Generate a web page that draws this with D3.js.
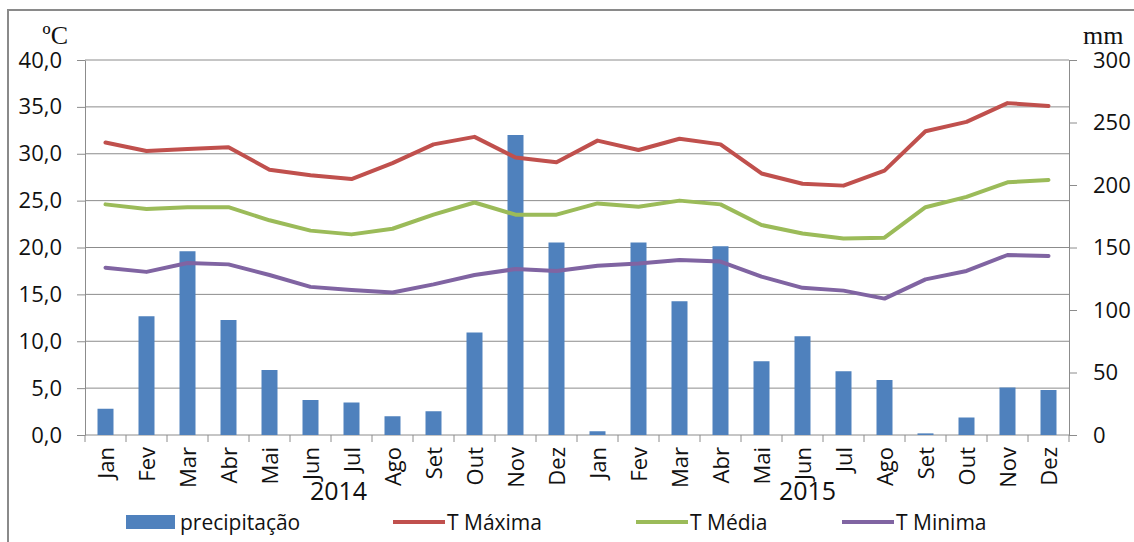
<!DOCTYPE html>
<html>
<head>
<meta charset="utf-8">
<script src="https://cdn.jsdelivr.net/npm/d3@7"></script>
<style>
  body { margin: 0; background: #fff; }
  svg { display: block; font-family: "Open Sans", sans-serif; }
</style>
</head>
<body>
<div id="chart"></div>
<script>
var months = ['Jan', 'Fev', 'Mar', 'Abr', 'Mai', 'Jun', 'Jul', 'Ago', 'Set', 'Out', 'Nov', 'Dez',
              'Jan', 'Fev', 'Mar', 'Abr', 'Mai', 'Jun', 'Jul', 'Ago', 'Set', 'Out', 'Nov', 'Dez'];
var years = ['2014', '2015'];
var precip = [21, 95, 147, 92, 52, 28, 26, 15, 19, 82, 240, 154,
              3, 154, 107, 151, 59, 79, 51, 44, 1.3, 14, 38, 36];
var tMax = [31.2, 30.3, 30.5, 30.7, 28.3, 27.7, 27.3, 29.0, 31.0, 31.8, 29.6, 29.1,
            31.4, 30.4, 31.6, 31.0, 27.9, 26.8, 26.6, 28.2, 32.4, 33.4, 35.4, 35.1];
var tMed = [24.6, 24.1, 24.3, 24.3, 22.9, 21.8, 21.4, 22.0, 23.5, 24.8, 23.5, 23.5,
            24.7, 24.35, 25.0, 24.6, 22.4, 21.5, 20.95, 21.05, 24.3, 25.4, 26.95, 27.2];
var tMin = [17.85, 17.4, 18.35, 18.2, 17.07, 15.8, 15.47, 15.2, 16.07, 17.07, 17.7, 17.5,
            18.06, 18.3, 18.67, 18.5, 16.9, 15.7, 15.4, 14.55, 16.6, 17.5, 19.2, 19.1];
var tempTicks = [0, 5, 10, 15, 20, 25, 30, 35, 40];
var precipTicks = [0, 50, 100, 150, 200, 250, 300];

var w = 1134, h = 542;
var mLeft = 85, mRight = 1069, mTop = 60, mBottom = 435;
var grid = '#8c8c8c';
var ink = '#111';

var svg = d3.select('#chart').append('svg')
  .attr('width', w)
  .attr('height', h);

// frame
svg.append('rect')
  .attr('x', 8).attr('y', 10)
  .attr('width', w).attr('height', h)
  .attr('fill', 'none')
  .attr('stroke', '#8a8a8a')
  .attr('stroke-width', 2);

var x = d3.scaleBand().domain(d3.range(months.length)).range([mLeft, mRight]);
var yT = d3.scaleLinear().domain([0, 40]).range([mBottom, mTop]);
var yP = d3.scaleLinear().domain([0, 300]).range([mBottom, mTop]);
var cx = function(i) { return x(i) + x.bandwidth() / 2; };
var comma = function(d) { return d3.format('.1f')(d).replace('.', ','); };

// gridlines
svg.append('g').selectAll('line')
  .data(tempTicks.slice(1))
  .enter().append('line')
  .attr('x1', mLeft).attr('x2', mRight)
  .attr('y1', d => yT(d)).attr('y2', d => yT(d))
  .attr('stroke', grid).attr('stroke-width', 1);

// left axis
var la = svg.append('g')
  .attr('transform', `translate(${mLeft},0)`)
  .call(d3.axisLeft(yT).tickValues(tempTicks).tickFormat(comma).tickSize(8).tickSizeOuter(0).tickPadding(15));
// right axis
var ra = svg.append('g')
  .attr('transform', `translate(${mRight},0)`)
  .call(d3.axisRight(yP).tickValues(precipTicks).tickSize(8).tickSizeOuter(0).tickPadding(16));
[la, ra].forEach(function(a) {
  a.select('.domain').attr('stroke', grid);
  a.selectAll('.tick line').attr('stroke', grid);
  a.selectAll('.tick text').attr('font-size', 22).attr('fill', ink)
    .attr('font-family', '"Open Sans", sans-serif');
});

// bottom axis line and category ticks
svg.append('line')
  .attr('x1', mLeft).attr('x2', mRight)
  .attr('y1', mBottom).attr('y2', mBottom)
  .attr('stroke', grid);
svg.append('g').selectAll('line')
  .data(d3.range(months.length + 1))
  .enter().append('line')
  .attr('x1', d => mLeft + d * x.bandwidth()).attr('x2', d => mLeft + d * x.bandwidth())
  .attr('y1', mBottom).attr('y2', mBottom + 7)
  .attr('stroke', grid);

// bars
var bw = x.bandwidth() * 0.39;
svg.append('g').selectAll('rect')
  .data(precip)
  .enter().append('rect')
  .attr('x', (d, i) => cx(i) - bw / 2)
  .attr('y', d => yP(d))
  .attr('width', bw)
  .attr('height', d => mBottom - yP(d))
  .attr('fill', '#4F81BD');

// lines
var series = [
  { name: 'T Máxima', values: tMax, color: '#C0504D' },
  { name: 'T Média', values: tMed, color: '#9BBB59' },
  { name: 'T Minima', values: tMin, color: '#8064A2' }
];
var line = d3.line().x((d, i) => cx(i)).y(d => yT(d));
series.forEach(function(s) {
  svg.append('path')
    .attr('d', line(s.values))
    .attr('fill', 'none')
    .attr('stroke', s.color)
    .attr('stroke-width', 4)
    .attr('stroke-linejoin', 'round')
    .attr('stroke-linecap', 'round');
});

// month labels
svg.append('g').selectAll('text')
  .data(months)
  .enter().append('text')
  .attr('transform', (d, i) => `translate(${cx(i) + 8},447) rotate(-90)`)
  .attr('text-anchor', 'end')
  .attr('font-size', 22)
  .attr('fill', ink)
  .text(d => d);

// year labels
svg.append('g').selectAll('text')
  .data(years)
  .enter().append('text')
  .attr('x', (d, i) => i === 0 ? cx(5) + 28 : cx(18) - 36)
  .attr('y', 500)
  .attr('text-anchor', 'middle')
  .attr('font-size', 25)
  .attr('fill', ink)
  .text(d => d);

// unit labels
svg.append('text')
  .attr('x', 68).attr('y', 44)
  .attr('text-anchor', 'end')
  .attr('font-family', '"Liberation Serif", serif')
  .attr('font-size', 26)
  .attr('fill', ink)
  .text('ºC');
svg.append('text')
  .attr('x', 1083).attr('y', 44)
  .attr('font-family', '"Liberation Serif", serif')
  .attr('font-size', 26)
  .attr('fill', ink)
  .text('mm');

// legend
var lg = svg.append('g');
lg.append('rect')
  .attr('x', 126).attr('y', 515).attr('width', 49).attr('height', 14)
  .attr('fill', '#4F81BD');
lg.append('text')
  .attr('x', 180).attr('y', 530)
  .attr('font-size', 21).attr('fill', ink)
  .text('precipitação');
var legX = [393, 636, 842];
series.forEach(function(s, i) {
  lg.append('line')
    .attr('x1', legX[i]).attr('x2', legX[i] + 52)
    .attr('y1', 522).attr('y2', 522)
    .attr('stroke', s.color).attr('stroke-width', 4);
  lg.append('text')
    .attr('x', legX[i] + 54).attr('y', 530)
    .attr('font-size', 21).attr('fill', ink)
    .text(s.name);
});
</script>
</body>
</html>
